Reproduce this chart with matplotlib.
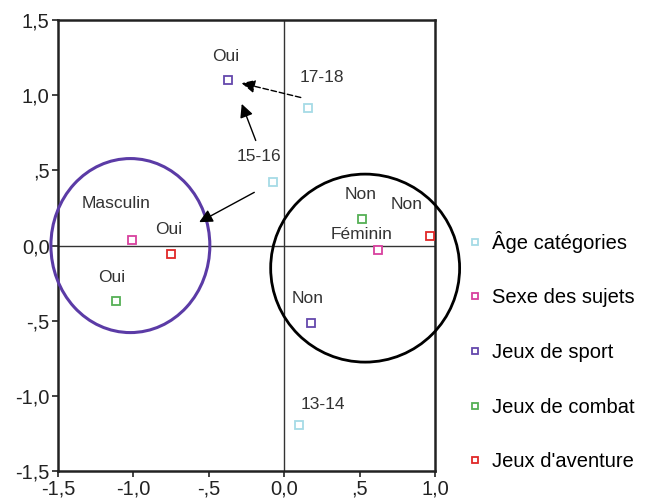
import matplotlib.pyplot as plt
from matplotlib.patches import Ellipse
from matplotlib.lines import Line2D

plt.rcParams['font.family'] = ['Liberation Sans', 'DejaVu Sans']

# series: (name, colour, x, y, point labels)
series_names = ["Âge catégories", "Sexe des sujets", "Jeux de sport",
                "Jeux de combat", "Jeux d'aventure"]
series_colors = ["#a6dbe6", "#d8409e", "#6548ac", "#55b055", "#e02828"]

age_x = [0.16, -0.076, 0.096]
age_y = [0.915, 0.42, -1.195]
age_lab = ["17-18", "15-16", "13-14"]

sexe_x = [-1.01, 0.62]
sexe_y = [0.037, -0.03]
sexe_lab = ["Masculin", "Féminin"]

sport_x = [-0.37, 0.175]
sport_y = [1.10, -0.515]
sport_lab = ["Oui", "Non"]

combat_x = [-1.117, 0.514]
combat_y = [-0.37, 0.176]
combat_lab = ["Oui", "Non"]

aventure_x = [-0.753, 0.965]
aventure_y = [-0.057, 0.063]
aventure_lab = ["Oui", "Non"]

# label anchor positions (data units)
age_lab_pos = [(0.249, 1.12), (-0.169, 0.595), (0.255, -1.06)]
sexe_lab_pos = [(-1.117, 0.283), (0.514, 0.077)]
sport_lab_pos = [(-0.388, 1.26), (0.156, -0.35)]
combat_lab_pos = [(-1.144, -0.21), (0.507, 0.343)]
aventure_lab_pos = [(-0.766, 0.11), (0.812, 0.276)]

xticks = [-1.5, -1.0, -0.5, 0.0, 0.5, 1.0]
xtick_labels = ["-1,5", "-1,0", "-,5", "0,0", ",5", "1,0"]
yticks = [-1.5, -1.0, -0.5, 0.0, 0.5, 1.0, 1.5]
ytick_labels = ["-1,5", "-1,0", "-,5", "0,0", ",5", "1,0", "1,5"]

fig = plt.figure(figsize=(6.53, 5.04), dpi=100)
ax = fig.add_axes([0.0888, 0.0655, 0.5773, 0.8945])
ax.set_xlim(-1.5, 1.0)
ax.set_ylim(-1.5, 1.5)

ax.axhline(0, color="#333333", lw=1.0, zorder=1)
ax.axvline(0, color="#333333", lw=1.0, zorder=1)

all_x = [age_x, sexe_x, sport_x, combat_x, aventure_x]
all_y = [age_y, sexe_y, sport_y, combat_y, aventure_y]
all_lab = [age_lab, sexe_lab, sport_lab, combat_lab, aventure_lab]
all_pos = [age_lab_pos, sexe_lab_pos, sport_lab_pos, combat_lab_pos, aventure_lab_pos]

for name, col, xs, ys, labs, pos in zip(series_names, series_colors, all_x, all_y, all_lab, all_pos):
    ax.plot(xs, ys, ls="none", marker="s", ms=5.5, mfc="white", mec=col, mew=1.3, zorder=4)
    for lab, (tx, ty) in zip(labs, pos):
        ax.text(tx, ty, lab, ha="center", va="center", fontsize=12.5, color="#333333", zorder=5)

# circles grouping the categories
ax.add_patch(Ellipse((-1.02, 0.0), 1.054, 1.158, fill=False, ec="#5b3ba6", lw=2.2, clip_on=False, zorder=3))
ax.add_patch(Ellipse((0.537, -0.15), 1.253, 1.251, fill=False, ec="black", lw=2.0, clip_on=False, zorder=3))

# arrows
ax.annotate("", xy=(-0.30, 1.085), xytext=(0.128, 0.981),
            arrowprops=dict(arrowstyle="-|>", ls=(0, (4, 2)), color="black", lw=1.0, mutation_scale=20))
ax.annotate("", xy=(-0.288, 0.96), xytext=(-0.182, 0.682),
            arrowprops=dict(arrowstyle="-|>", color="black", lw=1.0, mutation_scale=20))
ax.annotate("", xy=(-0.58, 0.147), xytext=(-0.182, 0.363),
            arrowprops=dict(arrowstyle="-|>", color="black", lw=1.0, mutation_scale=20))

ax.set_xticks(xticks)
ax.set_xticklabels(xtick_labels)
ax.set_yticks(yticks)
ax.set_yticklabels(ytick_labels)
ax.tick_params(direction="out", length=4, width=1.2, labelsize=14.5, colors="#222222", pad=2)
for s in ax.spines.values():
    s.set_linewidth(1.8)
    s.set_color("#222222")

handles = [Line2D([], [], ls="none", marker="s", ms=5, mfc="white", mec=c, mew=1.3) for c in series_colors]
fig.legend(handles, series_names, loc="upper left", bbox_to_anchor=(0.688, 0.578),
           frameon=False, fontsize=14.5, labelspacing=1.77, handletextpad=0.4, handlelength=0.8)

fig.savefig("out.png", dpi=100)
